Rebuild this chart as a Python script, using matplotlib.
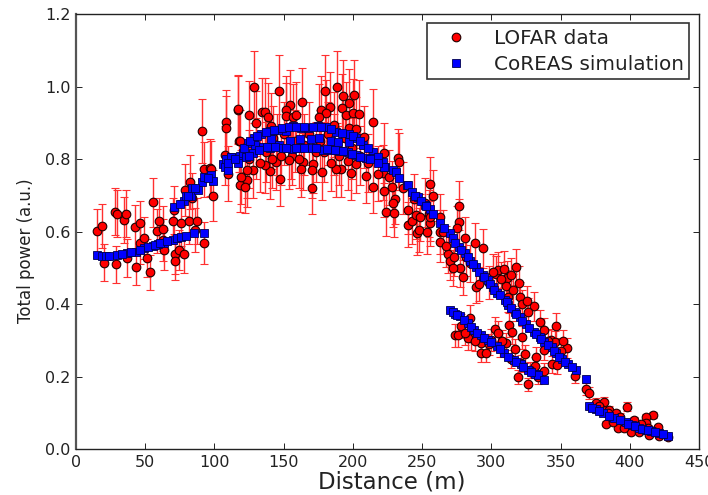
import matplotlib
matplotlib.use("Agg")
import matplotlib.pyplot as plt

lofar_x = [
 14.9,18.5,20.4,28.1,29.3,28.9,34.9,35.8,36.6,42.3,
 43.3,46.2,46.2,49.0,51.0,53.4,55.3,58.2,60.1,62.5,
 63.0,63.7,70.9,70.2,71.2,71.5,74.6,76.0,77.9,78.6,
 81.8,83.5,82.7,85.9,87.5,90.7,92.4,92.8,96.7,97.6,
 98.6,108.2,108.7,107.3,109.9,118.3,117.2,117.7,
 128.4,117.1,124.6,129.9,134.4,136.4,138.8,118.3,146.9,154.4,
 152.0,152.0,156.8,159.2,163.1,140.7,179.6,188.8,192.9,200.8,
 197.4,183.2,177.2,180.8,175.6,192.1,194.8,200.1,204.2,214.5,
 197.4,202.5,208.3,186.1,222.2,232.6,233.0,230.6,228.9,224.1,
 229.9,228.0,222.2,214.5,209.7,198.9,202.0,196.7,191.2,188.1,
 184.0,177.5,171.2,170.3,170.7,164.0,162.3,156.3,153.9,147.2,
 144.3,141.9,140.0,136.8,127.5,123.6,123.8,119.0,121.9,221.7,
 125,130,133,137,142,145,148,150,155,158,
 161,165,168,173,176,179,182,186,190,194,
 199,205,211,218,226,
 236,240,243,240,244,252,258,255,
 255.9,245.3,248.2,246.3,247.8,253.5,255.9,255.4,263.1,276.6,
 276.4,275.2,281.2,263.1,262.7,287.9,293.9,268.7,269.9,273.0,
 277.1,279.5,284.3,288.6,290.8,303.5,304.7,309.1,311.5,317.5,
 319.9,310.8,320.4,312.0,330.5,326.4,312.4,315.1,322.3,346.8,
 343.2,346.1,354.8,337.7,332.4,316.8,324.0,319.2,326.4,331.2,
 337.7,343.7,347.3,360.1,368.5,370.9,375.7,381.7,380.5,385.3,
 398.1,416.6,411.8,420.2,382.9,391.3,401.0,407.0,414.2,421.4,
 427.4,390.1,403.4,411.8,273.5,275.9,284.3,285.5,283.1,292.7,
 292.2,295.8,302.3,305.0,310.3,321.6,305.9,300.0,
 298,301,307,314,316,322,326,335,338,341,
 350,352,265,267,272,282,278,281,288,298,
 308,314,328,334,378,384,388,393,396,403,
 408,413,417,
]
lofar_y = [
 .602,.616,.515,.656,.650,.511,.632,.650,.527,.613,
 .502,.624,.568,.582,.527,.488,.681,.602,.629,.609,
 .577,.550,.661,.630,.538,.519,.550,.625,.540,.715,
 .630,.692,.738,.605,.630,.879,.772,.569,.777,.774,
 .700,.902,.886,.811,.760,.728,.937,.850,
 1.00,.938,.923,.899,.931,.930,.918,.850,.989,.950,
 .936,.919,.916,.922,.957,.893,.989,1.00,.975,.977,
 .954,.945,.936,.927,.916,.941,.922,.929,.925,.904,
 .885,.883,.862,.895,.818,.803,.793,.690,.680,.654,
 .651,.724,.713,.724,.754,.763,.787,.796,.773,.773,
 .791,.765,.786,.770,.721,.793,.774,.809,.798,.747,
 .793,.800,.768,.784,.770,.770,.743,.752,.724,.763,
 .80,.83,.79,.82,.86,.84,.81,.87,.83,.85,
 .80,.84,.87,.82,.85,.82,.87,.84,.81,.86,
 .83,.81,.79,.76,.75,
 .72,.62,.63,.66,.69,.68,.70,.65,
 .732,.646,.640,.596,.605,.600,.623,.640,.640,.672,
 .628,.610,.582,.600,.573,.568,.554,.539,.519,.530,
 .499,.475,.513,.449,.456,.484,.495,.497,.472,.502,
 .460,.450,.419,.421,.395,.380,.343,.323,.309,.341,
 .301,.297,.279,.274,.255,.276,.263,.199,.180,.231,
 .217,.234,.232,.202,.166,.156,.129,.131,.108,.108,
 .118,.094,.088,.062,.070,.058,.049,.049,.040,.037,
 .033,.099,.081,.073,.314,.314,.363,.306,.306,.294,
 .267,.267,.332,.322,.292,.237,.283,.302,
 .460,.490,.470,.480,.440,.400,.410,.350,.330,.300,
 .270,.300,.600,.560,.500,.530,.340,.320,.300,.290,
 .300,.250,.220,.200,.120,.100,.075,.090,.060,.065,
 .070,.060,.050,
]
lofar_err = [
 .060,.062,.052,.066,.065,.051,.063,.065,.053,.061,
 .050,.062,.057,.058,.053,.049,.068,.060,.063,.061,
 .058,.055,.066,.063,.054,.052,.055,.063,.054,.072,
 .063,.069,.074,.061,.063,.088,.077,.057,.078,.077,
 .070,.090,.089,.081,.076,.073,.094,.085,
 .100,.094,.092,.090,.093,.093,.092,.085,.099,.095,
 .094,.092,.092,.092,.096,.089,.099,.100,.098,.098,
 .095,.095,.094,.093,.092,.094,.092,.093,.093,.090,
 .089,.088,.086,.090,.082,.080,.079,.069,.068,.065,
 .065,.072,.071,.072,.075,.076,.079,.080,.077,.077,
 .079,.077,.079,.077,.072,.079,.077,.081,.080,.075,
 .079,.080,.077,.078,.077,.077,.074,.075,.072,.076,
 .080,.083,.079,.082,.086,.084,.081,.087,.083,.085,
 .080,.084,.087,.082,.085,.082,.087,.084,.081,.086,
 .083,.081,.079,.076,.075,
 .072,.062,.063,.066,.069,.068,.070,.065,
 .073,.065,.064,.060,.060,.060,.062,.064,.064,.067,
 .063,.061,.058,.060,.057,.057,.055,.054,.052,.053,
 .050,.048,.051,.045,.046,.048,.050,.050,.047,.050,
 .046,.045,.042,.042,.040,.038,.034,.032,.031,.034,
 .030,.030,.028,.027,.026,.028,.026,.020,.018,.023,
 .022,.023,.023,.020,.017,.016,.013,.013,.011,.011,
 .012,.009,.009,.006,.007,.006,.005,.005,.004,.004,
 .003,.010,.008,.007,.031,.031,.036,.031,.031,.029,
 .027,.027,.033,.032,.029,.024,.028,.030,
 .046,.049,.047,.048,.044,.040,.041,.035,.033,.030,
 .027,.030,.060,.056,.050,.053,.034,.032,.030,.029,
 .030,.025,.022,.020,.012,.010,.008,.009,.006,.007,
 .007,.006,.005,
]

sim_x = [
 14.9,18.5,21.6,29.3,36.6,43.3,49.0,55.3,59.4,63.7,
 70.2,73.1,76.2,79.8,85.4,92.6,
 70.7,77.9,79.4,83.0,83.5,88.3,90.7,92.6,97.2,98.6,
 106.3,107.5,109.9,112.3,108.7,118.3,
 124.3,128.7,133.9,140.4,146.5,152.0,156.8,162.3,167.6,174.8,
 180.8,188.1,197.2,202.5,207.3,214.5,221.7,222.9,228.9,230.9,
 233.3,239.3,
 112.3,117.1,120.7,123.1,127.9,129.1,135.1,140.4,141.2,146.7,
 149.6,154.4,156.3,161.6,162.1,170.7,170.0,175.6,178.4,184.5,
 184.5,189.3,190.9,196.5,197.2,202.0,209.2,215.0,222.2,
 239.8,242.9,247.0,251.8,255.9,263.1,269.9,272.3,276.6,280.7,
 284.8,288.6,293.9,297.5,301.1,304.0,309.6,312.0,316.8,320.4,
 324.7,330.7,334.8,337.9,343.7,346.8,351.2,355.7,361.3,368.5,
 270.4,273.5,277.1,283.1,287.2,292.7,297.5,304.0,309.1,316.1,
 321.1,326.4,331.2,333.6,337.9,
 370.9,375.7,381.0,388.9,397.3,401.4,406.5,411.8,415.4,421.4,
 427.4,
 24,33,40,46,52,57,61,66,75,81,86,95,
 110,115,121,126,131,137,143,149,154,159,165,171,177,184,192,200,205,211,218,
 125,132,138,144,152,159,165,173,181,187,193,199,205,212,218,
 245,249,253,258,266,274,278,283,287,291,295,299,302,306,311,314,318,322,327,332,336,341,345,349,353,358,
 272,275,280,285,290,295,300,306,312,318,323,329,
 373,378,385,393,399,404,409,413,418,424,
]
sim_y = [
 .536,.534,.534,.536,.542,.545,.555,.561,.567,.570,
 .578,.584,.587,.589,.596,.598,
 .669,.686,.699,.699,.722,.716,.738,.750,.756,.741,
 .788,.779,.770,.805,.802,.808,
 .846,.858,.869,.878,.881,.879,.893,.887,.885,.892,
 .888,.876,.869,.858,.839,.821,.793,.778,.771,.766,
 .748,.729,
 .805,.791,.818,.805,.818,.839,.833,.830,.856,.839,
 .830,.851,.828,.830,.856,.830,.856,.858,.827,.827,
 .850,.849,.823,.821,.849,.811,.803,.803,.780,
 .729,.711,.695,.674,.662,.625,.596,.582,.559,.541,
 .519,.504,.481,.467,.447,.432,.412,.398,.380,.366,
 .346,.323,.311,.295,.281,.265,.248,.235,.219,.194,
 .384,.373,.369,.348,.329,.314,.302,.285,.267,.246,
 .234,.219,.208,.205,.191,
 .119,.111,.099,.085,.074,.067,.060,.053,.051,.046,
 .038,
 .534,.538,.544,.550,.558,.564,.569,.575,.678,.700,.720,.748,
 .790,.800,.830,.850,.865,.875,.880,.885,.888,.890,.888,.890,.890,.883,.872,.863,.850,.830,.805,
 .810,.825,.835,.835,.830,.830,.830,.830,.828,.825,.822,.815,.805,.800,.790,
 .700,.685,.670,.650,.610,.570,.550,.530,.510,.490,.475,.455,.440,.425,.405,.390,.372,.355,.335,.318,.303,.288,.272,.256,.242,.228,
 .378,.370,.358,.338,.320,.308,.295,.277,.256,.240,.227,.213,
 .115,.105,.092,.080,.070,.063,.056,.052,.048,.042,
]

x_ticks = [0, 50, 100, 150, 200, 250, 300, 350, 400, 450]
y_ticks = [0.0, 0.2, 0.4, 0.6, 0.8, 1.0, 1.2]
data_label = "LOFAR data"
sim_label = "CoREAS simulation"

fig = plt.figure(figsize=(7.08, 4.95), dpi=100)
ax = fig.add_axes([76/708, 1-449.3/495, (699-76)/708, (449.3-14.3)/495])

data = ax.errorbar(lofar_x, lofar_y, yerr=lofar_err, fmt="o", color="#ff0000",
                   mec="#200000", mew=0.8, ms=6.2, ecolor="#ff3030", elinewidth=1.0,
                   capsize=3.0, capthick=0.7, zorder=2)
sim, = ax.plot(sim_x, sim_y, "s", color="#0000ff", mec="#000050", mew=0.6, ms=6.2,
               linestyle="none", zorder=3)

ax.set_xlim(0, 450)
ax.set_ylim(0, 1.2)
ax.set_xticks(x_ticks)
ax.set_yticks(y_ticks)
ax.tick_params(which="major", direction="in", top=True, right=True, length=4,
               width=0.7, labelsize=11.5, pad=4, colors="#222222")
ax.set_xlabel("Distance (m)", fontsize=16.5, color="#222222")
ax.xaxis.set_label_coords(0.507, -0.049)
ax.set_ylabel("Total power (a.u.)", fontsize=12, color="#222222")
ax.yaxis.set_label_coords(-0.066, 0.457)
for name, sp in ax.spines.items():
    sp.set_linewidth(1.0)
    sp.set_color("#222222")
ax.spines["left"].set_linewidth(1.6)
ax.spines["left"].set_color("#555555")

leg = ax.legend([data[0], sim], [data_label, sim_label], numpoints=1,
                loc="upper left", fontsize=14.4, frameon=True, fancybox=False,
                bbox_to_anchor=((427-76)/623, 1-(23-14.3)/435),
                borderaxespad=0, handletextpad=0.75, labelspacing=0.36,
                borderpad=0.28, handlelength=2.3, markerscale=1.0)
leg.get_frame().set_edgecolor("#333333")
leg.get_frame().set_linewidth(1.2)
leg.get_frame().set_alpha(1.0)
for t in leg.get_texts():
    t.set_color("#222222")

fig.savefig("out.png", dpi=100)
